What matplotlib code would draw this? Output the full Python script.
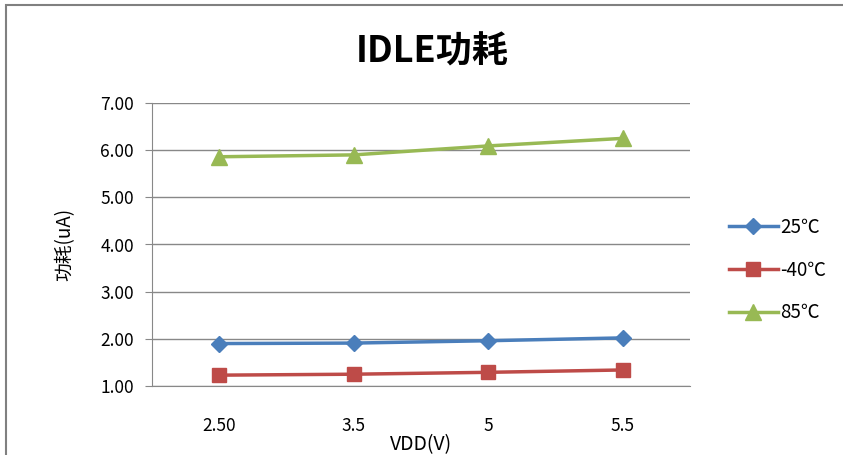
import matplotlib
matplotlib.use("Agg")
import matplotlib.pyplot as plt
from matplotlib.patches import Rectangle

plt.rcParams['font.family'] = ['Noto Sans CJK SC', 'DejaVu Sans']

vdd_labels = ["2.50", "3.5", "5", "5.5"]
series_names = ["25℃", "-40℃", "85℃"]
vals_25 = [1.90, 1.91, 1.96, 2.02]
vals_m40 = [1.23, 1.25, 1.29, 1.34]
vals_85 = [5.86, 5.90, 6.09, 6.25]

colors = ["#4A7EBB", "#BE4B48", "#98B954"]
markers = ["D", "s", "^"]
msizes = [8, 10, 11]


def main():
    fig = plt.figure(figsize=(8.43, 4.55), dpi=100)
    ax = fig.add_axes([152 / 843, 1 - 386 / 455, (690 - 152) / 843, (386 - 103) / 455])

    # outer chart border (only left/top visible in the crop)
    fig.patches.append(Rectangle((6 / 843, -0.2), 1.2, 1 - 5 / 455 + 0.2,
                                 transform=fig.transFigure, fill=False,
                                 edgecolor="#808080", linewidth=1.5))

    x = list(range(len(vdd_labels)))
    for vals, name, c, m, ms in zip([vals_25, vals_m40, vals_85], series_names,
                                    colors, markers, msizes):
        ax.plot(x, vals, color=c, marker=m, markersize=ms, linewidth=2.5, label=name)

    ax.set_xlim(-0.5, 3.5)
    ax.set_ylim(1, 7)
    ax.set_yticks([1, 2, 3, 4, 5, 6, 7])
    ax.set_yticklabels(["%.2f" % v for v in range(1, 8)], fontsize=12.5)
    ax.set_xticks(x)
    ax.set_xticklabels(vdd_labels, fontsize=12.5)
    ax.tick_params(axis='x', length=0, pad=22)
    ax.tick_params(axis='y', length=5, color="#888888", pad=8, direction="out")
    ax.grid(axis='y', color="#888888", linewidth=1)
    ax.set_axisbelow(True)
    for side in ["top", "right"]:
        ax.spines[side].set_visible(False)
    ax.spines["left"].set_color("#888888")
    ax.spines["bottom"].set_color("#888888")

    ax.set_xlabel("VDD(V)", fontsize=14, labelpad=0)
    ax.set_ylabel("功耗(uA)", fontsize=13.5, labelpad=18)

    fig.text(432 / 843, 1 - 52 / 455, "IDLE功耗", fontsize=26, fontweight="bold",
             ha="center", va="center")

    ax.legend(loc="center left", bbox_to_anchor=(712 / 843, 1 - 270 / 455),
              bbox_transform=fig.transFigure, frameon=False, fontsize=13.5,
              handlelength=2.6, labelspacing=1.15, handletextpad=0.15)

    fig.savefig("out.png", dpi=100)
    plt.close(fig)


if __name__ == '__main__':
    main()
